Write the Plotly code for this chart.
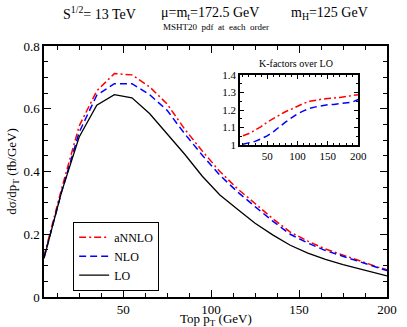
"""Top pT distribution at LO / NLO / aNNLO with K-factor inset."""

import plotly.graph_objects as go

# ------------------------------------------------------------------
# Data
# ------------------------------------------------------------------
pt = [5, 15, 25, 35, 45, 55, 65, 75, 85, 95, 105, 115, 125, 135, 145,
      155, 165, 175, 185, 195, 200]

lo = [0.123, 0.335, 0.51, 0.611, 0.645, 0.635, 0.585, 0.52, 0.455, 0.385,
      0.325, 0.28, 0.235, 0.198, 0.165, 0.14, 0.12, 0.103, 0.088, 0.073,
      0.067]
nlo = [0.125, 0.335, 0.525, 0.643, 0.68, 0.68, 0.645, 0.595, 0.52, 0.452,
       0.388, 0.335, 0.288, 0.242, 0.2, 0.172, 0.148, 0.129, 0.111, 0.092,
       0.084]
annlo = [0.13, 0.345, 0.545, 0.657, 0.712, 0.708, 0.67, 0.615, 0.535, 0.465,
         0.4, 0.345, 0.298, 0.25, 0.207, 0.178, 0.153, 0.133, 0.115, 0.095,
         0.087]

k_pt = [10, 20, 30, 40, 50, 60, 70, 80, 90, 100, 110, 120, 130, 140, 150,
        160, 170, 180, 190, 200]
k_annlo = [1.052, 1.065, 1.085, 1.105, 1.13, 1.15, 1.172, 1.19, 1.205,
           1.222, 1.238, 1.25, 1.257, 1.262, 1.266, 1.268, 1.272, 1.277,
           1.282, 1.288]
k_nlo = [1.004, 1.01, 1.02, 1.035, 1.052, 1.075, 1.105, 1.13, 1.155, 1.178,
         1.195, 1.21, 1.218, 1.225, 1.23, 1.232, 1.236, 1.24, 1.245, 1.26]

x_ticks = [50, 100, 150, 200]
y_ticks = [0, 0.2, 0.4, 0.6, 0.8]
k_x_ticks = [50, 100, 150, 200]
k_y_ticks = [1, 1.1, 1.2, 1.3, 1.4]

FONT = "Liberation Serif"
RED = "#ff0000"
BLUE = "#0000ff"
BLACK = "#000000"

ANNLO_DASH = "7px,3px,2px,3px"
NLO_DASH = "7px,4px"

fig = go.Figure()

# ------------------------------------------------------------------
# Main curves
# ------------------------------------------------------------------
fig.add_trace(go.Scatter(x=pt, y=annlo, mode="lines", name="aNNLO",
                         line=dict(color=RED, width=1.5, dash=ANNLO_DASH)))
fig.add_trace(go.Scatter(x=pt, y=nlo, mode="lines", name="NLO",
                         line=dict(color=BLUE, width=1.5, dash=NLO_DASH)))
fig.add_trace(go.Scatter(x=pt, y=lo, mode="lines", name="LO",
                         line=dict(color=BLACK, width=1.3)))

# ------------------------------------------------------------------
# Inset: K-factors over LO
# ------------------------------------------------------------------
fig.add_trace(go.Scatter(x=k_pt, y=k_annlo, mode="lines", showlegend=False,
                         xaxis="x2", yaxis="y2",
                         line=dict(color=RED, width=1.5, dash=ANNLO_DASH)))
fig.add_trace(go.Scatter(x=k_pt, y=k_nlo, mode="lines", showlegend=False,
                         xaxis="x2", yaxis="y2",
                         line=dict(color=BLUE, width=1.5, dash=NLO_DASH)))

axis_common = dict(
    showline=True, linecolor=BLACK, linewidth=1.5, mirror="ticks",
    ticks="inside", tickcolor=BLACK, showgrid=False, zeroline=False,
)

fig.update_layout(
    width=407, height=327,
    margin=dict(l=37, r=10, t=46, b=30),
    paper_bgcolor="white", plot_bgcolor="white",
    font=dict(family=FONT, size=13, color=BLACK),
    xaxis=dict(
        range=[5, 200], tickvals=x_ticks, ticklen=7, tickwidth=1.2,
        minor=dict(dtick=12.5, tick0=0, ticks="inside", ticklen=4,
                   tickcolor=BLACK, tickwidth=1),
        tickfont=dict(family=FONT, size=13),
        **axis_common,
    ),
    yaxis=dict(
        range=[0, 0.8], tickvals=y_ticks, ticklen=7, tickwidth=1.2,
        minor=dict(dtick=0.05, tick0=0, ticks="inside", ticklen=4,
                   tickcolor=BLACK, tickwidth=1),
        title=dict(text="dσ/dp<sub>T</sub> (fb/GeV)", standoff=4,
                   font=dict(family=FONT, size=13)),
        tickfont=dict(family=FONT, size=13),
        **axis_common,
    ),
    xaxis2=dict(
        domain=[0.571, 0.916], anchor="y2", range=[5, 200],
        tickvals=k_x_ticks, ticklen=4, tickwidth=1,
        minor=dict(dtick=10, tick0=0, ticks="inside", ticklen=2.5,
                   tickcolor=BLACK),
        tickfont=dict(family=FONT, size=11),
        **axis_common,
    ),
    yaxis2=dict(
        domain=[0.606, 0.884], anchor="x2", range=[1, 1.4],
        tickvals=k_y_ticks, ticktext=["1", "1.1", "1.2", "1.3", "1.4"],
        ticklen=4, tickwidth=1,
        minor=dict(dtick=0.05, tick0=1, ticks="inside", ticklen=2.5,
                   tickcolor=BLACK),
        tickfont=dict(family=FONT, size=11),
        **axis_common,
    ),
    legend=dict(
        x=0.085, y=0.3, xanchor="left", yanchor="top",
        bgcolor="white", bordercolor=BLACK, borderwidth=1,
        font=dict(family=FONT, size=12), itemwidth=30,
        tracegroupgap=0,
    ),
    showlegend=True,
)

# Titles drawn as annotations
title_parts = [
    (0.05, "S<sup>1/2</sup>= 13 TeV"),
    (0.335, "μ=m<sub>t</sub>=172.5 GeV"),
    (0.715, "m<sub>H</sub>=125 GeV"),
]
for xpos, txt in title_parts:
    fig.add_annotation(text=txt, x=xpos, y=1.13, xref="paper", yref="paper",
                       xanchor="left", yanchor="middle", showarrow=False,
                       font=dict(size=14, family=FONT))

fig.add_annotation(text="MSHT20  pdf  at  each  order", x=0.5, y=1.075,
                   xref="paper", yref="paper", xanchor="center",
                   yanchor="middle", showarrow=False,
                   font=dict(size=9, family=FONT))
fig.add_annotation(text="K-factors over LO", x=0.736, y=0.93,
                   xref="paper", yref="paper", xanchor="center",
                   yanchor="middle", showarrow=False,
                   font=dict(size=10, family=FONT))
fig.add_annotation(text="Top p<sub>T</sub> (GeV)", x=0.5, y=-0.09,
                   xref="paper", yref="paper", xanchor="center",
                   yanchor="middle", showarrow=False,
                   font=dict(size=13, family=FONT))

# drop the default 8px page margin so the figure fills the window exactly
fig.write_html("out.html", config={"displayModeBar": False},
               post_script="document.body.style.margin='0px';")
